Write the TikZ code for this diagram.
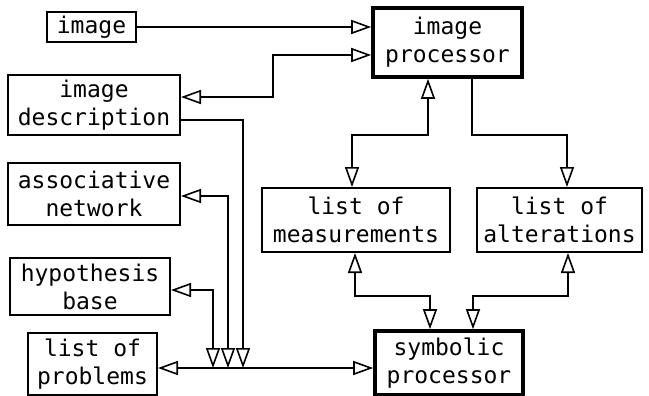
\documentclass[tikz,border=0pt]{standalone}
\usepackage{fontspec}
\setmonofont{DejaVu Sans Mono}
\usetikzlibrary{arrows.meta, positioning}

\tikzset{
    box/.style={draw, line width=1pt, align=center, inner sep=0pt,
                font=\ttfamily\fontsize{11.5}{14}\selectfont},
    procbox/.style={box, line width=1.8pt},
    flow/.style={line width=0.8pt, -{Triangle[open, length=10pt, width=7pt]}},
    biflow/.style={line width=0.8pt, {Triangle[open, length=10pt, width=7pt]}-{Triangle[open, length=10pt, width=7pt]}}
}

\begin{document}
\begin{tikzpicture}[x=0.5pt, y=-0.5pt]
    \useasboundingbox (0,0) rectangle (649,396);

    % stores on the left and in the middle
    \foreach \name/\x/\y/\w/\h/\lbl in {img/91.5/27/44.5/15/{image},
                                        imgdesc/94/105/86/30/{image\\description},
                                        assoc/94/194/86/31/{associative\\network},
                                        hypo/90/286.5/80/28.5/{hypothesis\\base},
                                        probs/92.5/364/64.5/31/{list of\\problems},
                                        meas/356/220/94/32/{list of\\measurements},
                                        alter/559.5/220/82.5/32/{list of\\alterations}} {
        \node[box, minimum width=\w pt, minimum height=\h pt] (\name) at (\x,\y) {\lbl};
    }

    % the two processors
    \node[procbox, minimum width=74.5pt, minimum height=34.5pt] (improc) at (447.5,42.5) {image\\processor};
    \node[procbox, minimum width=74pt, minimum height=32pt] (symproc) at (449,363) {symbolic\\processor};

    % junctions on the problem bus
    \foreach \j/\x in {j1/213, j2/228, j3/243}
        \coordinate (\j) at (\x,368);

    \draw[flow] (img.east) -- (img.east -| improc.west);
    \draw[biflow] ([yshift=4pt]imgdesc.east) -| (273,55) -- ([yshift=-6.25pt]improc.west);
    \draw[biflow] ([xshift=-9.75pt]improc.south) -- ++(0,56) -| ([xshift=-2pt]meas.north);
    \draw[flow] ([xshift=12.25pt]improc.south) -- ++(0,56) -| ([xshift=3.75pt]alter.north);
    \draw[biflow] ([xshift=-0.5pt]meas.south) -- ++(0,43) -| ([xshift=-9.5pt]symproc.north);
    \draw[biflow] ([xshift=4.25pt]alter.south) -- ++(0,43) -| ([xshift=12pt]symproc.north);

    \draw[biflow] ([yshift=-2pt]probs.east) -- ([yshift=-2pt]probs.east -| symproc.west);
    \draw[flow] ([yshift=-7.5pt]imgdesc.east) -| (j3);
    \draw[biflow] ([yshift=-1pt]assoc.east) -| (j2);
    \draw[biflow] ([yshift=-1.75pt]hypo.east) -| (j1);
\end{tikzpicture}
\end{document}
